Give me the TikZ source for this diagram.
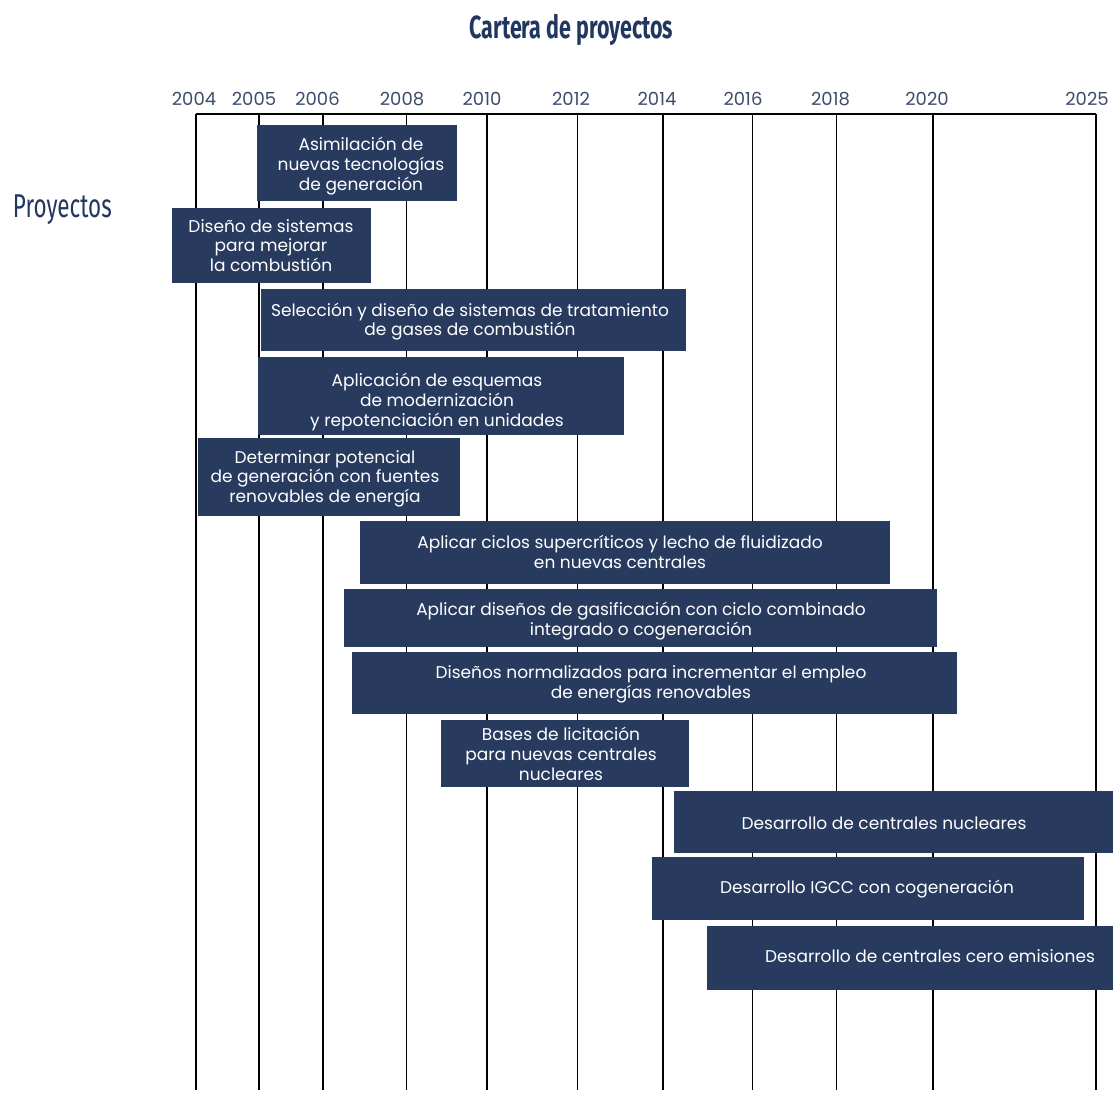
\documentclass[tikz,border=0pt]{standalone}
\usepackage{fontspec}
\setmainfont{Poppins}
\newfontfamily\headfont{Fira Sans}
\definecolor{barfill}{HTML}{283B5F}
\definecolor{headcol}{HTML}{223760}
\definecolor{yearcol}{HTML}{3E4D6B}
\begin{document}
\begin{tikzpicture}[x=1pt,y=-1pt,
  gridline/.style={line width=1.8pt,black},
  yearlbl/.style={text=yearcol,anchor=base,inner sep=0pt,font=\fontsize{18}{18}\selectfont},
  bar/.style={fill=barfill,draw=none,anchor=north west,inner sep=0pt,outer sep=0pt},
  bartext/.style={text=white,align=center,inner sep=0pt,font=\fontsize{17}{19.7}\selectfont},
  heading/.style={text=headcol,inner sep=0pt},
]
\useasboundingbox[fill=white] (0,0) rectangle (1113,1093);

% headings
\node[heading,anchor=base] (title) at (571.5,38.5)
  {\scalebox{0.67}[1]{\headfont\bfseries\fontsize{32}{32}\selectfont Cartera de proyectos}};
\node[heading,anchor=base west] (proj) at (12.7,217)
  {\scalebox{0.68}[1]{\headfont\fontsize{33}{33}\selectfont Proyectos}};

% time axis
\coordinate (axL) at (196,114);
\coordinate (axR) at (1096,114);
\draw[gridline] (axL) -- (axR);
\foreach \yr/\x/\lx in {2004/196/194,2005/259/254,2006/323/317.5,2008/406.5/402,
    2010/487/482,2012/577.5/571,2014/663/657,2016/752.5/743,2018/836.5/830.5,
    2020/933/927,2025/1096/1087}{
  \coordinate (top\yr) at (\x,114);
  \coordinate (bot\yr) at (\x,1090);
  \draw[gridline] (top\yr) -- (bot\yr);
  \node[yearlbl] (lbl\yr) at (\lx,105.5) {\yr};
}

% project bars
\node[bar,minimum width=200pt,minimum height=76pt] (b1) at (257,125) {};
\node[bartext] (t1) at (361,166.5) {\strut Asimilación de\\\strut nuevas tecnologías\\\strut de generación};

\node[bar,minimum width=199pt,minimum height=75pt] (b2) at (172,208) {};
\node[bartext] (t2) at (271,248) {\strut Diseño de sistemas\\\strut para mejorar\\\strut la combustión};

\node[bar,minimum width=425pt,minimum height=62pt] (b3) at (261,289) {};
\node[bartext] (t3) at (470,322) {\strut Selección y diseño de sistemas de tratamiento\\\strut de gases de combustión};

\node[bar,minimum width=366pt,minimum height=78.5pt] (b4) at (258,356.5) {};
\node[bartext] (t4) at (437,402.7) {\strut Aplicación de esquemas\\\strut de modernización\\\strut y repotenciación en unidades};

\node[bar,minimum width=262pt,minimum height=78pt] (b5) at (198,438) {};
\node[bartext] (t5) at (325,479) {\strut Determinar potencial\\\strut de generación con fuentes\\\strut renovables de energía};

\node[bar,minimum width=530.5pt,minimum height=62.5pt] (b6) at (359.5,521) {};
\node[bartext] (t6) at (620,554.2) {\strut Aplicar ciclos supercríticos y lecho de fluidizado\\\strut en nuevas centrales};

\node[bar,minimum width=593pt,minimum height=58pt] (b7) at (343.5,589) {};
\node[bartext] (t7) at (641,621.2) {\strut Aplicar diseños de gasificación con ciclo combinado\\\strut integrado o cogeneración};

\node[bar,minimum width=605.5pt,minimum height=62pt] (b8) at (351.5,652) {};
\node[bartext] (t8) at (651,684.5) {\strut Diseños normalizados para incrementar el empleo\\\strut de energías renovables};

\node[bar,minimum width=248.5pt,minimum height=66.5pt] (b9) at (440.5,720) {};
\node[bartext] (t9) at (561,756.6) {\strut Bases de licitación\\\strut para nuevas centrales\\\strut nucleares};

\node[bar,minimum width=446pt,minimum height=62pt] (b10) at (674,791) {};
\node[bartext] (t10) at (884,826) {\strut Desarrollo de centrales nucleares};

\node[bar,minimum width=431.5pt,minimum height=63pt] (b11) at (652,857) {};
\node[bartext] (t11) at (867,889.3) {\strut Desarrollo IGCC con cogeneración};

\node[bar,minimum width=413pt,minimum height=64pt] (b12) at (707,926) {};
\node[bartext] (t12) at (930,958.7) {\strut Desarrollo de centrales cero emisiones};
\end{tikzpicture}
\end{document}
